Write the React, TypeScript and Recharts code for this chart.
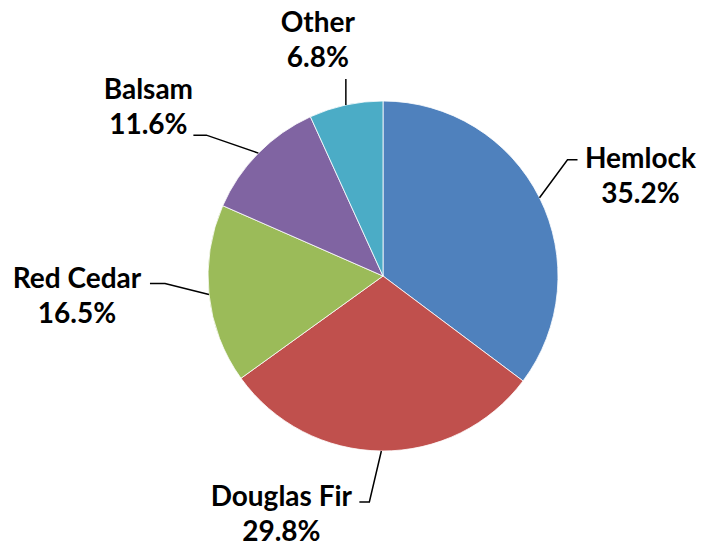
// Pie chart of species share with two-line outside labels and elbow leader lines
import React from "react"
import { Pie, PieChart, Cell } from "recharts"

const species = ["Hemlock", "Douglas Fir", "Red Cedar", "Balsam", "Other"]
const shares = [35.2, 29.8, 16.5, 11.6, 6.8]
const sliceColors = ["#4F81BD", "#C0504D", "#9BBB59", "#8064A2", "#4BACC6"]

// label placement relative to the slice's outer edge point (Excel-like)
const labelLayout = [
  { dx: 101, dy: -24, ex: 28, ey: -38, tail: 10 },
  { dx: -100, dy: 61, ex: -12, ey: 51, tail: -10 },
  { dx: -132, dy: 0, ex: -44, ey: -11, tail: -15 },
  { dx: -110, dy: -48, ex: -52, ey: -18, tail: -13 },
  { dx: -28, dy: -67, ex: 0, ey: -26, tail: 0 },
]

const data = species.map((name, i) => ({ name, value: shares[i] }))

const RADIAN = Math.PI / 180

const renderLabel = (props: any) => {
  const { cx, cy, midAngle, outerRadius, index, name, value } = props
  const layout = labelLayout[index]
  const x0 = cx + outerRadius * Math.cos(-midAngle * RADIAN)
  const y0 = cy + outerRadius * Math.sin(-midAngle * RADIAN)
  const x1 = x0 + layout.ex
  const y1 = y0 + layout.ey
  const x2 = x1 + layout.tail
  const lx = x0 + layout.dx
  const ly = y0 + layout.dy
  return (
    <g key={`label-${index}`}>
      <polyline
        points={`${x0},${y0} ${x1},${y1} ${x2},${y1}`}
        fill="none"
        stroke="#000"
        strokeWidth={1.5}
      />
      <text
        x={lx}
        y={ly - 17}
        textAnchor="middle"
        dominantBaseline="central"
        fontFamily="Lato, 'Open Sans', sans-serif"
        fontWeight="bold"
        fontSize={28}
        fill="#000"
      >
        {name}
      </text>
      <text
        x={lx}
        y={ly + 18}
        textAnchor="middle"
        dominantBaseline="central"
        fontFamily="Lato, 'Open Sans', sans-serif"
        fontWeight="bold"
        fontSize={28}
        fill="#000"
      >
        {`${Number(value).toFixed(1)}%`}
      </text>
    </g>
  )
}

export default function App() {
  return (
    <div style={{ position: "absolute", left: 0, top: 0, background: "#fff" }}>
      <PieChart
        width={702}
        height={546}
        margin={{ top: 0, right: 0, bottom: 0, left: 0 }}
      >
        <Pie
          data={data}
          dataKey="value"
          nameKey="name"
          cx={383}
          cy={276}
          outerRadius={175}
          startAngle={90}
          endAngle={-270}
          stroke="#ffffff"
          strokeWidth={0.8}
          label={renderLabel}
          labelLine={false}
          isAnimationActive={false}
        >
          {data.map((entry, i) => (
            <Cell key={entry.name} fill={sliceColors[i]} />
          ))}
        </Pie>
      </PieChart>
    </div>
  )
}
